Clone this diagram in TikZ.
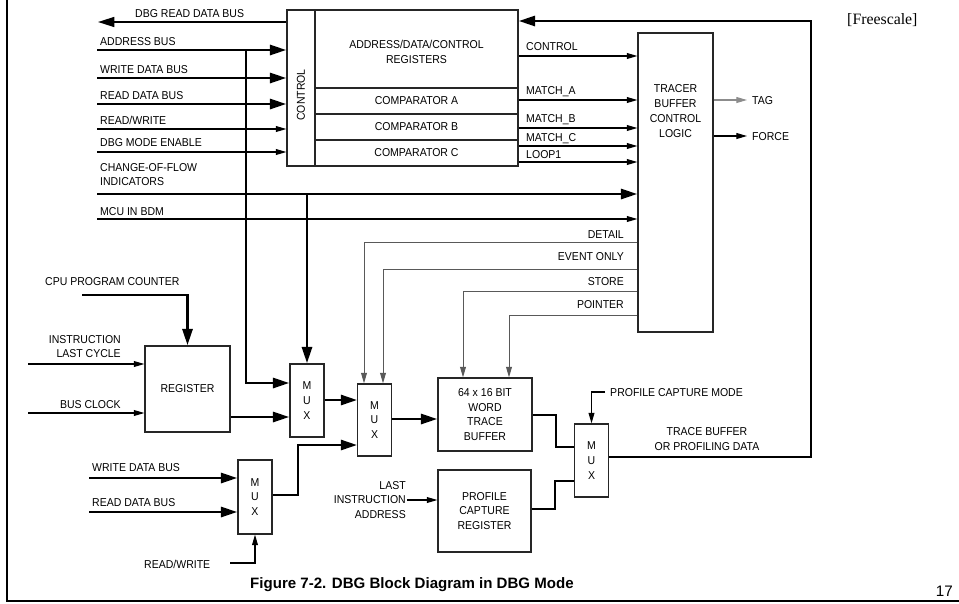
\documentclass[tikz,border=0pt]{standalone}
\usepackage{fontspec}
\setmainfont{Liberation Sans}
\newfontfamily\lblfont[FakeStretch=0.92]{Liberation Sans}
\newfontfamily\srcfont{Liberation Serif}
\usetikzlibrary{arrows.meta,calc}
\tikzset{
  bus/.style={line width=2.5pt},
  bar/.style={bus,-{Triangle[length=14pt,width=8.5pt]}},
  sig/.style={line width=0.9pt,-{Triangle[length=9pt,width=5pt]}},
  cline/.style={black!65,line width=0.8pt,-{Triangle[length=9pt,width=5pt]}},
  blk/.style={draw=black!85,line width=1.1pt,inner sep=1pt,align=center,font=\lblfont\fontsize{9.75}{12.6}\selectfont},
  mux/.style={blk,minimum width=1cm,minimum height=2.19cm},
  lbl/.style={font=\lblfont\fontsize{9.75}{12.6}\selectfont,inner sep=0pt}
}
\begin{document}
\begin{tikzpicture}[x=0.03cm,y=-0.03cm]
\useasboundingbox (0,0) rectangle (959,603);
\draw[line width=1.7pt] (7,0) -- (7,601) -- (959,601);

\node[blk,minimum width=0.84cm,minimum height=4.68cm] (ctl) at (301,88) {\rotatebox{90}{CONTROL\hspace{0.42cm}}};
\node[blk,minimum width=6.09cm,minimum height=2.34cm] (regs) at (416.5,49) {};
\node[lbl,align=center] (regstxt) at (416.5,52) {ADDRESS/DATA/CONTROL\\REGISTERS};
\node[blk,minimum width=6.09cm,minimum height=0.78cm] (cmpa) at (416.5,101) {COMPARATOR A};
\node[blk,minimum width=6.09cm,minimum height=0.78cm] (cmpb) at (416.5,127) {COMPARATOR B};
\node[blk,minimum width=6.09cm,minimum height=0.78cm] (cmpc) at (416.5,153) {COMPARATOR C};
\node[blk,minimum width=2.25cm,minimum height=8.97cm] (tbcl) at (675.5,182.5) {};
\node[lbl,align=center] (tbcltxt) at (675.5,111) {TRACER\\BUFFER\\CONTROL\\LOGIC};
\node[blk,minimum width=2.55cm,minimum height=2.58cm] (reg) at (187.5,389) {REGISTER};
\node[mux,minimum width=1.02cm] (mux1) at (307,400.5) {M\\U\\X};
\node[mux,minimum height=2.16cm] (mux2) at (374.5,420) {M\\U\\X};
\node[blk,minimum width=2.82cm,minimum height=2.19cm] (tbuf) at (485,414.5) {64 x 16 BIT\\WORD\\TRACE\\BUFFER};
\node[blk,minimum width=2.79cm,minimum height=2.46cm] (pcr) at (484.5,511) {PROFILE\\CAPTURE\\REGISTER};
\node[mux] (mux3) at (591.5,460.5) {M\\U\\X};
\node[mux,minimum width=1.02cm,minimum height=2.22cm] (mux4) at (255,497) {M\\U\\X};

\coordinate (dbgrd) at (98,22);
\coordinate (inab) at (97,50);
\coordinate (inwd) at (97,78);
\coordinate (inrd) at (97,104);
\coordinate (inrw) at (97,129);
\coordinate (indme) at (97,152);
\coordinate (incof) at (97,194);
\coordinate (inbdm) at (97,219);
\coordinate (abj) at (246,50);
\coordinate (tag) at (747,100);
\coordinate (force) at (747,136);
\coordinate (cpupc) at (82,295);
\coordinate (ilc) at (28,364);
\coordinate (bclk) at (28,413);
\coordinate (wdb2) at (89,478);
\coordinate (rdb2) at (89,512);
\coordinate (rw2) at (230,563);
\coordinate (lia) at (407,500);
\coordinate (pcm) at (605,392);
\coordinate (fbb) at (811,457);
\coordinate (fb) at (811,21);

\draw[bar,line width=1.5pt] (ctl.west |- dbgrd) -- (dbgrd);
\draw[bar] (inab) -- (inab -| ctl.west);
\draw[bar] (inwd) -- (inwd -| ctl.west);
\draw[bar] (inrd) -- (inrd -| ctl.west);
\draw[sig] (inrw) -- (inrw -| ctl.west);
\draw[sig] (indme) -- (indme -| ctl.west);
\draw[bar] (incof) -- (incof -| tbcl.west);
\draw[sig] (inbdm) -- (inbdm -| tbcl.west);
\draw[bar] (abj) |- (mux1.west |- 0,383);
\draw[bar] (incof -| mux1.north) -- (mux1.north);

\draw[sig] (regs.east |- 0,56) -- (tbcl.west |- 0,56);
\draw[sig] (cmpa.east |- 0,100) -- (tbcl.west |- 0,100);
\draw[sig] (cmpb.east |- 0,128) -- (tbcl.west |- 0,128);
\draw[sig] (cmpc.east |- 0,146) -- (tbcl.west |- 0,146);
\draw[sig] (cmpc.east |- 0,162) -- (tbcl.west |- 0,162);
\draw[sig,black!45] (tbcl.east |- tag) -- (tag);
\draw[sig] (tbcl.east |- force) -- (force);

\draw[cline] (tbcl.west |- 0,242) -| (364,0 |- mux2.north);
\draw[cline] (tbcl.west |- 0,269) -| (383,0 |- mux2.north);
\draw[cline] (tbcl.west |- 0,291) -| (463,0 |- tbuf.north);
\draw[cline] (tbcl.west |- 0,315) -| (509,0 |- tbuf.north);

\draw[bar] (cpupc) -| (reg.north);
\draw[sig] (ilc) -- (ilc -| reg.west);
\draw[sig] (bclk) -- (bclk -| reg.west);
\draw[bar] (reg.east |- 0,417) -- (mux1.west |- 0,417);
\draw[bar] (mux1.east |- 0,400) -- (mux2.west |- 0,400);
\draw[bar] (mux2.east |- 0,419) -- (tbuf.west |- 0,419);
\draw[bus] (tbuf.east |- 0,415) -| (556,447) -- (mux3.west |- 0,447);
\draw[bus] (pcr.east |- 0,509) -| (555,481) -- (mux3.west |- 0,481);
\draw[sig] (pcm) -| (mux3.north);
\draw[bar] (mux3.east |- fbb) -- (fbb) -- (fb) -- (fb -| regs.east);
\draw[bar] (wdb2) -- (wdb2 -| mux4.west);
\draw[bar] (rdb2) -- (rdb2 -| mux4.west);
\draw[sig] (rw2) -| (mux4.south);
\draw[bar] (mux4.east |- 0,495) -| (298,445) -- (mux2.west |- 0,445);
\draw[sig] (lia) -- (lia -| pcr.west);

\node[lbl,anchor=base west] (tdbg) at (135,17) {DBG READ DATA BUS};
\node[lbl,anchor=base west] (tab) at (100,45) {ADDRESS BUS};
\node[lbl,anchor=base west] (twd) at (100,73) {WRITE DATA BUS};
\node[lbl,anchor=base west] (trd) at (100,99) {READ DATA BUS};
\node[lbl,anchor=base west] (trw) at (100,124) {READ/WRITE};
\node[lbl,anchor=base west] (tdme) at (100,146.5) {DBG MODE ENABLE};
\node[lbl,anchor=west,align=left] (tcof) at (100,174.5) {CHANGE-OF-FLOW\\INDICATORS};
\node[lbl,anchor=base west] (tbdm) at (100,215) {MCU IN BDM};
\node[lbl,anchor=base west] (tctrl) at (526,50.5) {CONTROL};
\node[lbl,anchor=base west] (tma) at (526,94) {MATCH\_A};
\node[lbl,anchor=base west] (tmb) at (526,122) {MATCH\_B};
\node[lbl,anchor=base west] (tmc) at (526,141) {MATCH\_C};
\node[lbl,anchor=base west] (tloop) at (526,158) {LOOP1};
\node[lbl,anchor=base west] (ttag) at (752,104) {TAG};
\node[lbl,anchor=base west] (tforce) at (752,140) {FORCE};
\node[lbl,anchor=base east] (tdet) at (624,238) {DETAIL};
\node[lbl,anchor=base east] (tevt) at (624,260.5) {EVENT ONLY};
\node[lbl,anchor=base east] (tsto) at (624,285) {STORE};
\node[lbl,anchor=base east] (tptr) at (624,308) {POINTER};
\node[lbl,anchor=base west] (tpc) at (45,285) {CPU PROGRAM COUNTER};
\node[lbl,anchor=east,align=right] (tilc) at (121,346.5) {INSTRUCTION\\LAST CYCLE};
\node[lbl,anchor=base east] (tbclk) at (121,408) {BUS CLOCK};
\node[lbl,anchor=base west] (twd2) at (92,471.5) {WRITE DATA BUS};
\node[lbl,anchor=base west] (trd2) at (92,506) {READ DATA BUS};
\node[lbl,anchor=base west] (trw2) at (144,568) {READ/WRITE};
\node[lbl,anchor=east,align=right] (tlia) at (406,500) {LAST\\INSTRUCTION\\ADDRESS};
\node[lbl,anchor=base west] (tpcm) at (610,396) {PROFILE CAPTURE MODE};
\node[lbl,align=center] (tout) at (707,439) {TRACE BUFFER\\OR PROFILING DATA};

\node[inner sep=0pt,anchor=west,font=\srcfont\fontsize{13.5}{16}\selectfont] (src) at (847,20) {[Freescale]};
\node[inner sep=0pt,anchor=base east,font=\fontsize{13}{15}\selectfont] (pg) at (953,596) {17};
\node[inner sep=0pt,anchor=base west,font=\fontsize{12.85}{15}\selectfont\bfseries] (cap) at (250,588.5) {Figure 7-2. DBG Block Diagram in DBG Mode};
\end{tikzpicture}
\end{document}
